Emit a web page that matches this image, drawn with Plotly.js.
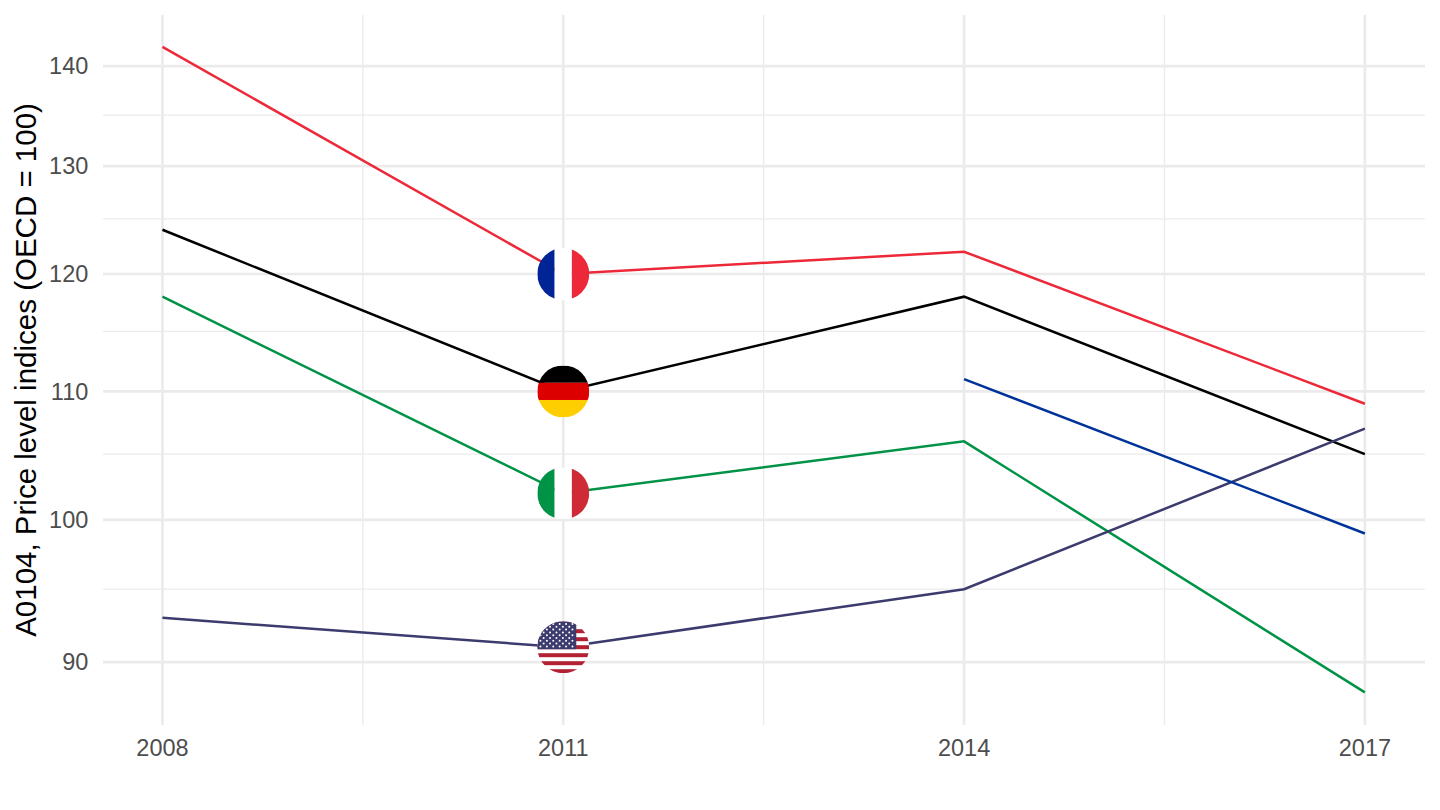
<!DOCTYPE html>
<html>
<head>
<meta charset="utf-8">
<script src="https://cdn.plot.ly/plotly-3.0.1.min.js"></script>
<style>
  html, body { margin: 0; padding: 0; background: #fff; }
  #chart { width: 1440px; height: 810px; }
  #chart .crisp { shape-rendering: auto !important; }
</style>
</head>
<body>
<div id="chart"></div>
<script>
"use strict";
// data
var years = [2008, 2011, 2014, 2017];
var france = [142, 120, 122, 109];
var germany = [124, 110, 118, 105];
var italy = [118, 102, 106, 88];
var usa = [93, 91, 95, 107];
var euro = [null, null, 111, 99];
var flagYear = 2011;

var yTicks = [90, 100, 110, 120, 130, 140];
var yMinor = [95, 105, 115, 125, 135];
var xMinor = [2009.5, 2012.5, 2015.5];

var GRID = "#ebebeb";

function line(name, y, color) {
  return {
    type: "scatter", mode: "lines", name: name,
    x: years, y: y, line: {color: color, width: 2.5},
    connectgaps: false, hoverinfo: "x+y+name"
  };
}

var data = [
  line("France", france, "#ED2939"),
  line("Germany", germany, "#000000"),
  line("Italy", italy, "#009246"),
  line("United States", usa, "#3C3B6E"),
  line("Euro area", euro, "#003399")
];

// flags are small svgs clipped to a circle
function svgFlag(body) {
  var s = '<svg xmlns="http://www.w3.org/2000/svg" width="208" height="208" viewBox="0 0 52 52">' +
    '<defs><clipPath id="c"><circle cx="26" cy="26" r="26"/></clipPath></defs>' +
    '<g clip-path="url(#c)">' + body + '</g></svg>';
  return "data:image/svg+xml;base64," + btoa(s);
}
function rect(x, y, w, h, fill) {
  return '<rect x="' + x + '" y="' + y + '" width="' + w + '" height="' + h + '" fill="' + fill + '"/>';
}
function vertical(a, b, c) {
  return rect(0, 0, 17.4, 52, a) + rect(17.4, 0, 17.2, 52, b) + rect(34.6, 0, 17.4, 52, c);
}
function horizontal(a, b, c) {
  return rect(0, 0, 52, 17.4, a) + rect(0, 17.4, 52, 17.2, b) + rect(0, 34.6, 52, 17.4, c);
}
function usFlag() {
  var s = rect(0, 0, 52, 52, "#ffffff");
  for (var i = 0; i < 13; i += 2) s += rect(0, i * 4, 52, 4, "#B22234");
  s += rect(0, 0, 39, 28, "#3C3B6E");
  for (var r = 0; r < 9; r++) {
    for (var c = 0; c < (r % 2 ? 5 : 6); c++) {
      s += '<circle cx="' + (3.2 + c * 6.4 + (r % 2 ? 3.2 : 0)) + '" cy="' + (2.8 + r * 2.8) + '" r="1" fill="#fff"/>';
    }
  }
  return s;
}

var flagD = 52, pxPerYear = 133.6, pxPerDecade = 3106;
function flag(src, value) {
  return {
    source: src, xref: "x", yref: "y",
    x: flagYear, y: Math.log10(value),
    sizex: flagD / pxPerYear, sizey: flagD / pxPerDecade,
    xanchor: "center", yanchor: "middle", sizing: "stretch", layer: "above"
  };
}

var images = [
  flag(svgFlag(vertical("#002395", "#ffffff", "#ED2939")), france[1]),
  flag(svgFlag(horizontal("#000000", "#DD0000", "#FFCE00")), germany[1]),
  flag(svgFlag(vertical("#009246", "#ffffff", "#CE2B37")), italy[1]),
  flag(svgFlag(usFlag()), usa[1])
];

var layout = {
  width: 1440, height: 810,
  margin: {l: 103, r: 15, t: 15, b: 85},
  paper_bgcolor: "#fff", plot_bgcolor: "#fff",
  showlegend: false,
  font: {family: "'Liberation Sans', Arial, sans-serif"},
  images: images,
  xaxis: {
    type: "linear", range: [2007.555, 2017.45],
    tickmode: "array", tickvals: years, ticktext: years.map(String),
    tickfont: {size: 23.5, color: "#4d4d4d"},
    ticks: "outside", ticklen: 2, tickcolor: "rgba(0,0,0,0)",
    showgrid: true, gridcolor: GRID, gridwidth: 2.7,
    zeroline: false, showline: false,
    minor: {tickmode: "array", tickvals: xMinor, showgrid: true, gridcolor: GRID, gridwidth: 1.35, ticks: ""}
  },
  yaxis: {
    type: "log", range: [Math.log10(85.9), Math.log10(145.4)],
    tickmode: "array", tickvals: yTicks, ticktext: yTicks.map(String),
    tickfont: {size: 23.5, color: "#4d4d4d"},
    ticks: "outside", ticklen: 9, tickcolor: "rgba(0,0,0,0)",
    showgrid: true, gridcolor: GRID, gridwidth: 2.7,
    zeroline: false, showline: false,
    minor: {tickmode: "array", tickvals: yMinor, showgrid: true, gridcolor: GRID, gridwidth: 1.35, ticks: ""},
    title: {text: "A0104, Price level indices (OECD = 100)", font: {size: 29.5, color: "#000"}, standoff: 3}
  }
};

Plotly.newPlot("chart", data, layout, {displayModeBar: false, staticPlot: true});
</script>
</body>
</html>
